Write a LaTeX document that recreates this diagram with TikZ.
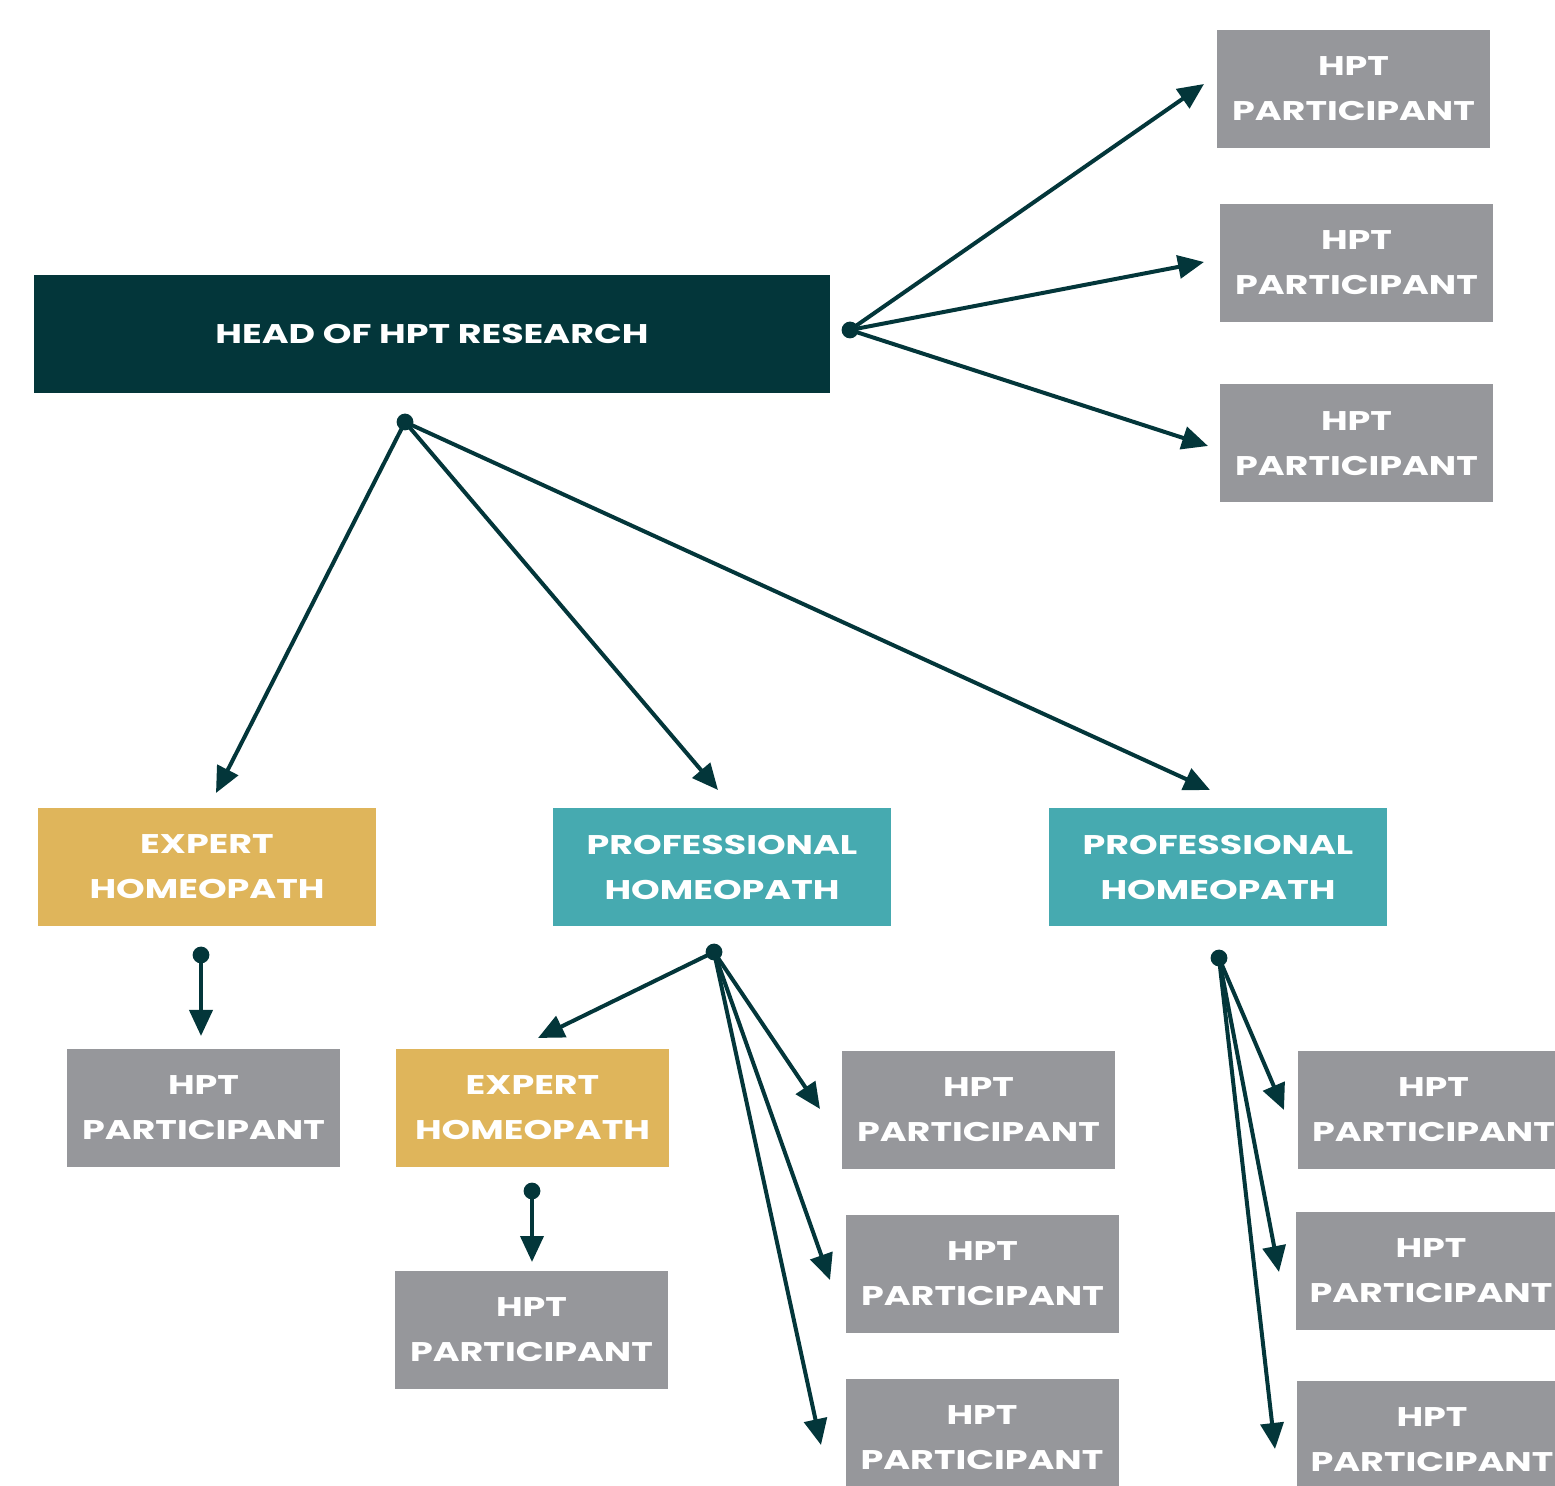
\documentclass[tikz,border=0pt]{standalone}
\usepackage{fontspec}
\setmainfont{Poppins}[UprightFont=* Bold,FakeStretch=1.35]
\usetikzlibrary{arrows.meta}
\definecolor{headc}{HTML}{03363A}
\definecolor{goldc}{HTML}{DFB55B}
\definecolor{tealc}{HTML}{46AAB0}
\definecolor{grayc}{HTML}{96979B}
\begin{document}
\begin{tikzpicture}[x=0.5pt,y=-0.5pt,
  box/.style={rectangle,inner sep=0pt,minimum width=136.5pt,minimum height=59pt,
    text=white,align=center,font=\fontsize{13.5}{22.5}\selectfont},
  part/.style={box,fill=grayc},
  expert/.style={box,fill=goldc},
  prof/.style={box,fill=tealc},
  conn/.style={draw=headc,line width=2pt,-{Triangle[length=13pt,width=11.5pt]}},
  dotc/.style={fill=headc}]
\useasboundingbox (0,0) rectangle (1555,1486);
\clip (0,0) rectangle (1555,1486);
\node[box,fill=headc,minimum width=398pt] (head) at (432,334) {HEAD OF HPT RESEARCH};
\node[part] (r1) at (1353.5,89) {HPT\\PARTICIPANT};
\node[part] (r2) at (1356.5,263) {HPT\\PARTICIPANT};
\node[part] (r3) at (1356.5,443.5) {HPT\\PARTICIPANT};
\node[expert,minimum width=169pt] (e1) at (207,867) {EXPERT\\HOMEOPATH};
\node[prof,minimum width=169pt] (p1) at (722,867) {PROFESSIONAL\\HOMEOPATH};
\node[prof,minimum width=169pt] (p2) at (1218,867) {PROFESSIONAL\\HOMEOPATH};
\node[part] (pe1) at (203.5,1108) {HPT\\PARTICIPANT};
\node[expert] (e2) at (532.5,1108) {EXPERT\\HOMEOPATH};
\node[part] (pe2) at (531.5,1330) {HPT\\PARTICIPANT};
\node[part] (m1) at (978.5,1110) {HPT\\PARTICIPANT};
\node[part] (m2) at (982.5,1274) {HPT\\PARTICIPANT};
\node[part] (m3) at (982,1438) {HPT\\PARTICIPANT};
\node[part,minimum width=135.5pt] (q1) at (1433.5,1110) {HPT\\PARTICIPANT};
\node[part,minimum width=135.5pt] (q2) at (1431,1271) {HPT\\PARTICIPANT};
\node[part,minimum width=135.5pt] (q3) at (1432,1440) {HPT\\PARTICIPANT};
% hubs
\coordinate (hr) at (850,330);
\coordinate (hb) at (405,422);
\coordinate (he1) at (201,955);
\coordinate (hp1) at (714,952);
\coordinate (hp2) at (1219,958);
\coordinate (he2) at (532,1191);
% arrow targets
\coordinate (tr1) at (1204,84);
\coordinate (tr2) at (1204,262);
\coordinate (tr3) at (1208,446);
\coordinate (te1) at (216,793);
\coordinate (tp1) at (718,790);
\coordinate (tp2) at (1210,790);
\coordinate (tpe1) at (201,1036);
\coordinate (te2) at (538,1038);
\coordinate (tm1) at (820,1109);
\coordinate (tm2) at (830,1280);
\coordinate (tm3) at (821,1445);
\coordinate (tq1) at (1284,1110);
\coordinate (tq2) at (1279,1272);
\coordinate (tq3) at (1275,1449);
\coordinate (tpe2) at (532,1262);
\foreach \a/\b in {hr/tr1,hr/tr2,hr/tr3,hb/te1,hb/tp1,hb/tp2,he1/tpe1,
  hp1/te2,hp1/tm1,hp1/tm2,hp1/tm3,hp2/tq1,hp2/tq2,hp2/tq3,he2/tpe2}
  \draw[conn] (\a) -- (\b);
\foreach \h in {hr,hb,he1,hp1,hp2,he2}
  \fill[dotc] (\h) circle (4.2pt);
\end{tikzpicture}
\end{document}
